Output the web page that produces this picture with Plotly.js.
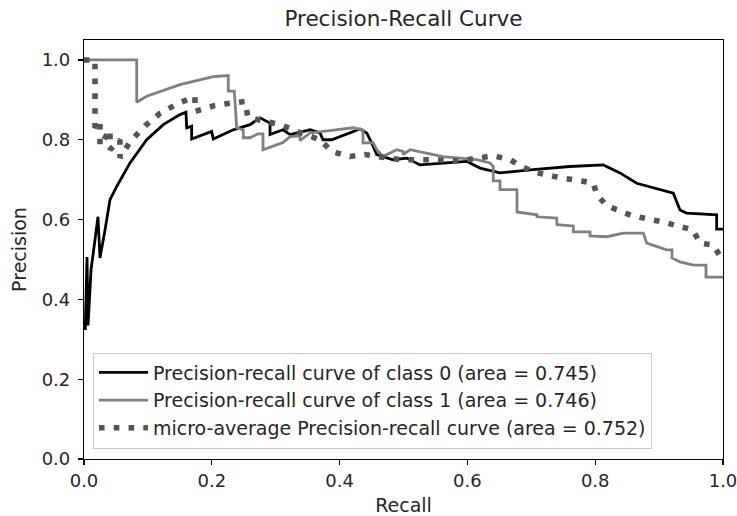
<!DOCTYPE html>
<html>
<head>
<meta charset="utf-8">
<script src="https://cdn.plot.ly/plotly-3.0.1.min.js"></script>
<style>html,body{margin:0;padding:0;background:#fff;}#chart{width:737px;height:516px;}</style>
</head>
<body>
<div id="chart"></div>
<script>
// Class 0 precision-recall curve (recall, precision)
var class0Recall = [0.002,0.0047,0.0063,0.011,0.0219,0.025,0.0329,0.0407,0.0512,0.072,0.0981,0.1241,0.1502,0.1596,0.1607,0.1685,0.1685,0.1998,0.2023,0.2336,0.2598,0.2754,0.2911,0.2911,0.3114,0.3224,0.3537,0.3693,0.374,0.3876,0.4319,0.4424,0.4502,0.4581,0.4836,0.505,0.5258,0.5989,0.6197,0.651,0.7027,0.7606,0.8127,0.8388,0.8649,0.9014,0.9222,0.9327,0.9432,0.9901,0.9901,1.0];
var class0Precision = [0.323,0.506,0.335,0.474,0.607,0.504,0.574,0.650,0.683,0.742,0.800,0.838,0.863,0.869,0.830,0.834,0.802,0.821,0.802,0.825,0.838,0.855,0.842,0.813,0.825,0.813,0.825,0.817,0.800,0.800,0.827,0.817,0.792,0.763,0.750,0.754,0.737,0.746,0.729,0.717,0.725,0.733,0.737,0.717,0.691,0.675,0.666,0.624,0.616,0.612,0.576,0.576];

// Class 1 precision-recall curve
var class1Recall = [0.0,0.0825,0.0825,0.0981,0.1502,0.2023,0.2258,0.2258,0.2352,0.239,0.2493,0.2493,0.2598,0.2723,0.2801,0.2801,0.3114,0.3224,0.338,0.338,0.3537,0.421,0.4366,0.4366,0.4523,0.4581,0.4679,0.4894,0.4992,0.4992,0.5102,0.5618,0.6146,0.6354,0.6405,0.6405,0.651,0.651,0.6698,0.6776,0.6776,0.7089,0.7089,0.7397,0.7402,0.7658,0.7658,0.7919,0.7919,0.818,0.844,0.8753,0.8806,0.9119,0.9202,0.9202,0.9327,0.9535,0.9734,0.9734,1.0];
var class1Precision = [1.0,1.0,0.894,0.909,0.938,0.958,0.961,0.922,0.922,0.830,0.825,0.805,0.805,0.815,0.815,0.775,0.793,0.808,0.810,0.798,0.817,0.830,0.825,0.792,0.793,0.775,0.758,0.775,0.771,0.763,0.775,0.758,0.750,0.742,0.733,0.697,0.697,0.675,0.675,0.675,0.619,0.612,0.607,0.604,0.587,0.584,0.569,0.569,0.559,0.557,0.566,0.566,0.541,0.524,0.524,0.504,0.494,0.486,0.486,0.456,0.456];

// Micro-average precision-recall curve
var microRecall = [0.0,0.0172,0.0172,0.025,0.025,0.0407,0.0407,0.0563,0.0563,0.072,0.0955,0.1189,0.1471,0.1737,0.1737,0.205,0.2254,0.252,0.2566,0.2833,0.3067,0.338,0.3693,0.3881,0.4163,0.4397,0.46,0.4945,0.5415,0.5884,0.6197,0.6401,0.6667,0.6823,0.7027,0.7449,0.7966,0.8028,0.8185,0.8592,0.9061,0.953,0.964,0.9844,0.9953,1.0];
var microPrecision = [1.0,1.0,0.830,0.845,0.785,0.825,0.775,0.800,0.755,0.795,0.835,0.866,0.891,0.908,0.871,0.886,0.891,0.896,0.856,0.845,0.838,0.818,0.800,0.770,0.758,0.763,0.758,0.750,0.750,0.747,0.755,0.760,0.750,0.735,0.720,0.705,0.692,0.662,0.634,0.609,0.594,0.574,0.541,0.536,0.509,0.504];

var seriesNames = [
  "Precision-recall curve of class 0 (area = 0.745)",
  "Precision-recall curve of class 1 (area = 0.746)",
  "micro-average Precision-recall curve (area = 0.752)"
];
var tickVals = [0.0,0.2,0.4,0.6,0.8,1.0];
var tickText = ["0.0","0.2","0.4","0.6","0.8","1.0"];

var FONT = "DejaVu Sans, Verdana, sans-serif";
var TXT = "#262626";

var traces = [
  {x: class0Recall, y: class0Precision, mode: "lines", name: seriesNames[0], legendgroup: "a",
   line: {color: "#000000", width: 2.8}},
  {x: class1Recall, y: class1Precision, mode: "lines", name: seriesNames[1], legendgroup: "b",
   line: {color: "#808080", width: 2.8}},
  {x: microRecall, y: microPrecision, mode: "lines", name: seriesNames[2], legendgroup: "c",
   line: {color: "#555555", width: 5.6, dash: "5.6px,9.2px"}}
];

var layout = {
  width: 737, height: 516,
  margin: {l: 84, r: 14, t: 40, b: 57, pad: 0},
  paper_bgcolor: "#ffffff", plot_bgcolor: "#ffffff",
  font: {family: FONT, size: 18, color: TXT},
  showlegend: true,
  title: {text: "Precision-Recall Curve", font: {family: FONT, size: 21.5, color: TXT},
          x: 0.5475, xanchor: "center", yref: "container", y: 0.965, yanchor: "middle"},
  xaxis: {range: [0, 1], tickvals: tickVals, ticktext: tickText, showgrid: false, zeroline: false,
          showline: true, mirror: true, linecolor: "#000000", linewidth: 1.1,
          ticks: "outside", ticklen: 5, tickwidth: 1.1, tickcolor: "#000000",
          ticklabeloverflow: "allow",
          tickfont: {family: FONT, size: 18, color: TXT},
          title: {text: "Recall", font: {family: FONT, size: 19, color: TXT}, standoff: 11}},
  yaxis: {range: [0, 1.05], tickvals: tickVals, ticktext: tickText, showgrid: false, zeroline: false,
          showline: true, mirror: true, linecolor: "#000000", linewidth: 1.1,
          ticks: "outside", ticklen: 5, tickwidth: 1.1, tickcolor: "#000000",
          ticklabelstandoff: 4, ticklabeloverflow: "allow",
          tickfont: {family: FONT, size: 18, color: TXT},
          title: {text: "Precision", font: {family: FONT, size: 19, color: TXT}, standoff: 10}},
  legend: {x: 0.014, y: 0.025, xanchor: "left", yanchor: "bottom",
           bgcolor: "rgba(255,255,255,0.8)", bordercolor: "#cccccc", borderwidth: 1,
           font: {family: FONT, size: 19, color: TXT}, itemwidth: 49,
           tracegroupgap: 3, traceorder: "normal"}
};

Plotly.newPlot("chart", traces, layout, {staticPlot: true, displayModeBar: false});
</script>
</body>
</html>
